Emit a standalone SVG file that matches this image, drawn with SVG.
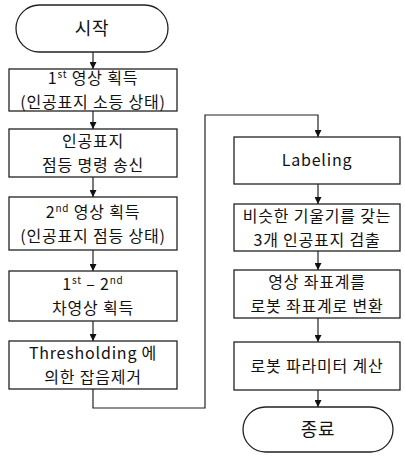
<svg xmlns="http://www.w3.org/2000/svg" width="405" height="456" viewBox="0 0 405 456">
<defs>
<marker id="arr" viewBox="0 0 10 10" refX="10" refY="5" markerWidth="7" markerHeight="7" orient="auto" markerUnits="userSpaceOnUse">
<path d="M0,0 L10,5 L0,10 Z" fill="#111"/>
</marker>
<style>
.box{fill:#fff;stroke:#222;stroke-width:1.3}
.t{font-family:"Noto Sans CJK KR","Liberation Sans",sans-serif;font-size:16px;letter-spacing:0.8px;fill:#111;text-anchor:middle}
.big{font-size:18px}
.sup{font-size:10px}
.c{fill:none;stroke:#222;stroke-width:1.2}
</style>
</defs>
<rect width="405" height="456" fill="#fff"/>
<g id="start"><rect class="box" x="16" y="5" width="152" height="47" rx="23.5"/><text class="t big" x="92" y="35">시작</text></g>
<g id="n1"><rect class="box" x="9" y="69" width="168" height="42"/><text class="t" x="93" y="84">1<tspan class="sup" baseline-shift="6">st</tspan> 영상 획득</text><text class="t" x="93" y="108">(인공표지 소등 상태)</text></g>
<g id="n2"><rect class="box" x="9" y="129" width="168" height="48"/><text class="t" x="93" y="147">인공표지</text><text class="t" x="93" y="171">점등 명령 송신</text></g>
<g id="n3"><rect class="box" x="9" y="197" width="168" height="53"/><text class="t" x="93" y="218">2<tspan class="sup" baseline-shift="6">nd</tspan> 영상 획득</text><text class="t" x="93" y="242">(인공표지 점등 상태)</text></g>
<g id="n4"><rect class="box" x="9" y="271" width="168" height="50"/><text class="t" x="93" y="290">1<tspan class="sup" baseline-shift="6">st</tspan> – 2<tspan class="sup" baseline-shift="6">nd</tspan></text><text class="t" x="93" y="314">차영상 획득</text></g>
<g id="n5"><rect class="box" x="9" y="341" width="168" height="48"/><text class="t" x="93" y="359">Thresholding 에</text><text class="t" x="93" y="383">의한 잡음제거</text></g>
<g id="n6"><rect class="box" x="234" y="137" width="166" height="47"/><text class="t" x="317" y="166">Labeling</text></g>
<g id="n7"><rect class="box" x="234" y="204" width="166" height="47"/><text class="t" x="317" y="222">비슷한 기울기를 갖는</text><text class="t" x="317" y="246">3개 인공표지 검출</text></g>
<g id="n8"><rect class="box" x="234" y="270" width="166" height="48"/><text class="t" x="317" y="288">영상 좌표계를</text><text class="t" x="317" y="312">로봇 좌표계로 변환</text></g>
<g id="n9"><rect class="box" x="234" y="342" width="166" height="48"/><text class="t" x="317" y="372">로봇 파라미터 계산</text></g>
<g id="end"><rect class="box" x="243" y="407" width="150" height="45" rx="22.5"/><text class="t big" x="318" y="436">종료</text></g>
<g id="connectors">
<path class="c" d="M93,52 V69" marker-end="url(#arr)"/>
<path class="c" d="M93,111 V129" marker-end="url(#arr)"/>
<path class="c" d="M93,177 V197" marker-end="url(#arr)"/>
<path class="c" d="M93,250 V271" marker-end="url(#arr)"/>
<path class="c" d="M93,321 V341" marker-end="url(#arr)"/>
<path class="c" d="M93,389 V408 H205 V115 H318 V137" marker-end="url(#arr)"/>
<path class="c" d="M318,184 V204" marker-end="url(#arr)"/>
<path class="c" d="M318,251 V270" marker-end="url(#arr)"/>
<path class="c" d="M318,318 V342" marker-end="url(#arr)"/>
<path class="c" d="M318,390 V407" marker-end="url(#arr)"/>
</g>
</svg>
